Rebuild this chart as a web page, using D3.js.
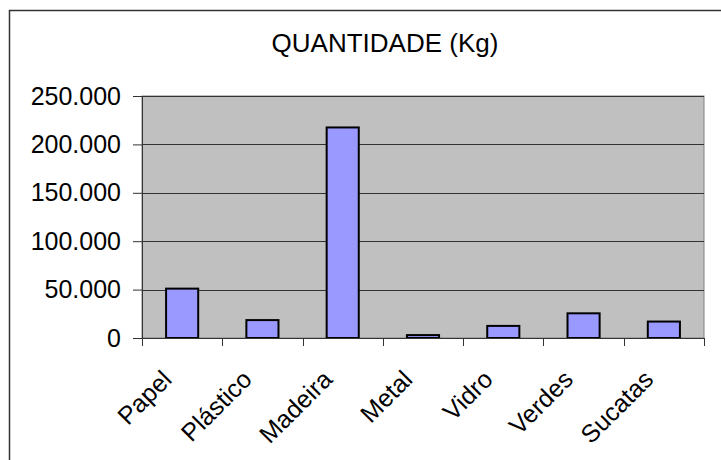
<!DOCTYPE html>
<html>
<head>
<meta charset="utf-8">
<script src="https://cdn.jsdelivr.net/npm/d3@7"></script>
<style>
  body { margin: 0; background: #fff; }
  svg { display: block; font-family: "Liberation Sans", Arial, sans-serif; }
</style>
</head>
<body>
<div id="chart"></div>
<script>
// Data
const categories = ["Papel", "Plástico", "Madeira", "Metal", "Vidro", "Verdes", "Sucatas"];
const quantities = [51000, 18500, 217500, 3000, 12500, 25500, 17000];
const yTicks = [0, 50000, 100000, 150000, 200000, 250000];

const W = 721, H = 460;
const margin = { top: 96, right: 17, bottom: 122, left: 142 };
const width = W - margin.left - margin.right;
const height = H - margin.top - margin.bottom;

const svg = d3.select("#chart").append("svg")
    .attr("width", W)
    .attr("height", H);

// outer frame (only top and left visible)
svg.append("path")
    .attr("d", `M9.5,${H} L9.5,10.5 L${W},10.5`)
    .attr("fill", "none")
    .attr("stroke", "#333")
    .attr("stroke-width", 1.5);

// title
svg.append("text")
    .attr("x", 385)
    .attr("y", 52)
    .attr("text-anchor", "middle")
    .style("font-size", "26px")
    .text("QUANTIDADE (Kg)");

const g = svg.append("g")
    .attr("transform", `translate(${margin.left},${margin.top})`);

const x = d3.scaleBand()
    .domain(categories)
    .range([0, width])
    .paddingInner(0)
    .paddingOuter(0);

const y = d3.scaleLinear()
    .domain([0, 250000])
    .range([height, 0]);

// plot background
g.append("rect")
    .attr("width", width)
    .attr("height", height)
    .attr("fill", "#c0c0c0")
    .attr("stroke", "#808080")
    .attr("stroke-width", 1);

// gridlines
g.selectAll("line.grid")
    .data(yTicks.filter(d => d > 0))
    .enter()
    .append("line")
    .attr("class", "grid")
    .attr("x1", 0)
    .attr("x2", width)
    .attr("y1", d => Math.round(y(d)) + 0.5)
    .attr("y2", d => Math.round(y(d)) + 0.5)
    .attr("stroke", "#333")
    .attr("stroke-width", 1);

// bars (Excel gap width 150% -> bar = 40% of band)
const bw = x.bandwidth() * 0.4;
g.selectAll("rect.bar")
    .data(quantities)
    .enter()
    .append("rect")
    .attr("class", "bar")
    .attr("x", (d, i) => x(categories[i]) + (x.bandwidth() - bw) / 2)
    .attr("y", d => y(d))
    .attr("width", bw)
    .attr("height", d => height - y(d))
    .attr("fill", "#9999ff")
    .attr("stroke", "#000")
    .attr("stroke-width", 2);

// y axis
const fmt = d => d === 0 ? "0" : d3.format(",")(d).replace(/,/g, ".");
const yAxis = g.append("g")
    .call(d3.axisLeft(y).tickValues(yTicks).tickFormat(fmt).tickSize(9).tickPadding(12));
yAxis.select(".domain").attr("stroke", "#333");
yAxis.selectAll(".tick line").attr("stroke", "#333");
yAxis.selectAll("text")
    .style("font-size", "25px")
    .style("font-family", "'Liberation Sans', Arial, sans-serif")
    .attr("fill", "#000");

// x axis: ticks at category boundaries
g.append("line")
    .attr("x1", 0).attr("x2", width)
    .attr("y1", height + 0.5).attr("y2", height + 0.5)
    .attr("stroke", "#333");
const bounds = categories.map(c => x(c)).concat([width]);
g.selectAll("line.xtick")
    .data(bounds)
    .enter()
    .append("line")
    .attr("class", "xtick")
    .attr("x1", d => Math.round(d) + 0.5)
    .attr("x2", d => Math.round(d) + 0.5)
    .attr("y1", height)
    .attr("y2", height + 8)
    .attr("stroke", "#333");

g.selectAll("text.xlab")
    .data(categories)
    .enter()
    .append("text")
    .attr("class", "xlab")
    .attr("text-anchor", "end")
    .attr("transform", d => `translate(${x(d) + x.bandwidth() / 2 - 9},${height + 43}) rotate(-45)`)
    .style("font-size", "25px")
    .text(d => d);
</script>
</body>
</html>
